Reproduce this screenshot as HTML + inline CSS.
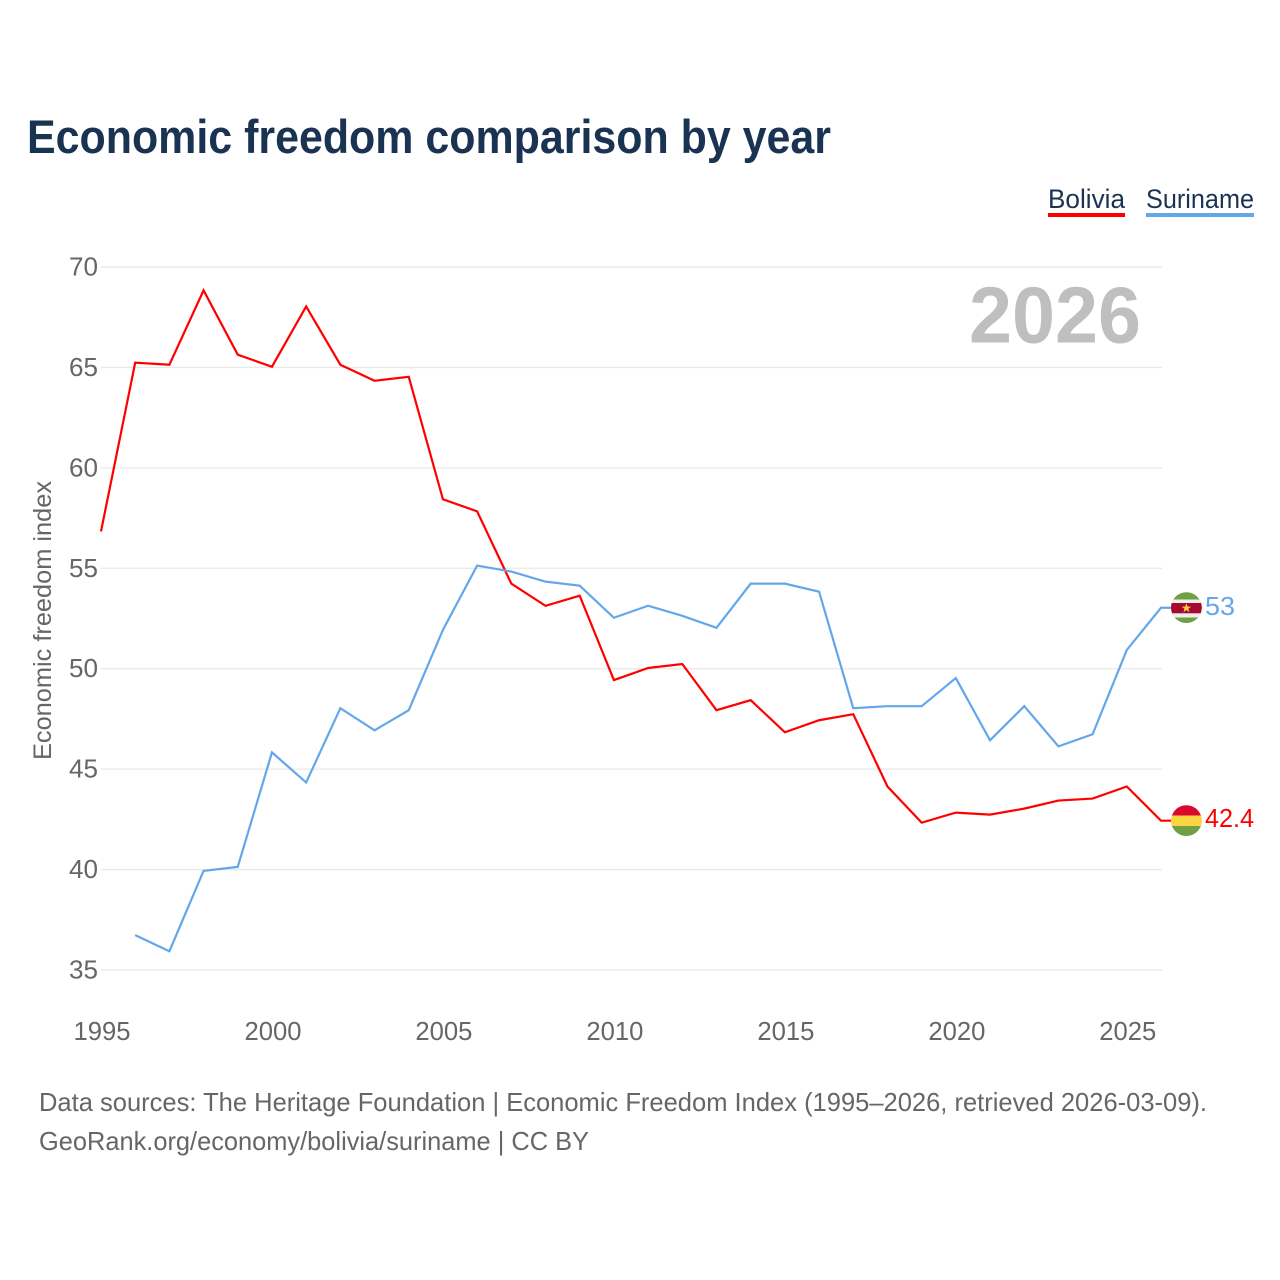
<!DOCTYPE html>
<html lang="en">
<head>
<meta charset="utf-8">
<title>Economic freedom comparison by year</title>
<style>
html,body{margin:0;padding:0;background:#fff;width:1280px;height:1280px;overflow:hidden}
svg{display:block}
text{font-family:"Liberation Sans",sans-serif}
</style>
</head>
<body>
<svg id="chart" xmlns="http://www.w3.org/2000/svg" width="1280" height="1280" viewBox="0 0 1280 1280">
  <defs>
    <clipPath id="flag-clip-sr"><circle cx="1186.4" cy="607.6" r="15.4"/></clipPath>
    <clipPath id="flag-clip-bo"><circle cx="1186.4" cy="820.6" r="15.4"/></clipPath>
  </defs>
  <text x="27" y="153" font-size="47" font-weight="700" fill="#1a3353" textLength="804" lengthAdjust="spacingAndGlyphs">Economic freedom comparison by year</text>

  <g id="grid"></g>
  <g id="y-ticks"></g>
  <g id="x-ticks"></g>

  <text x="969" y="342.5" font-size="80" font-weight="700" fill="#bfbfbf" textLength="172" lengthAdjust="spacingAndGlyphs">2026</text>

  <text transform="translate(51,760) rotate(-90)" font-size="25" fill="#666666" textLength="279" lengthAdjust="spacingAndGlyphs">Economic freedom index</text>

  <g id="series"></g>

  <g>
    <g>
      <text x="1048" y="208" font-size="27" fill="#1a3353" textLength="77" lengthAdjust="spacingAndGlyphs">Bolivia</text>
      <rect x="1048" y="213" width="77" height="4" fill="#ff0000"/>
    </g>
    <g>
      <text x="1146" y="208" font-size="27" fill="#1a3353" textLength="108" lengthAdjust="spacingAndGlyphs">Suriname</text>
      <rect x="1146" y="213" width="108" height="4" fill="#63a7ea"/>
    </g>
  </g>

  <g clip-path="url(#flag-clip-sr)">
    <rect x="1170" y="592" width="33" height="31" fill="#6fa043"/>
    <rect x="1170" y="599.5" width="33" height="18" fill="#eeeeee"/>
    <rect x="1170" y="603" width="33" height="10.3" fill="#a5092f"/>
    <polygon points="1186.4,603.2 1187.6,606.6 1191.2,606.6 1188.3,608.7 1189.4,612.1 1186.4,610 1183.4,612.1 1184.5,608.7 1181.6,606.6 1185.2,606.6" fill="#fdd43c"/>
  </g>
  <g clip-path="url(#flag-clip-bo)">
    <rect x="1170" y="805" width="33" height="10.5" fill="#d9082e"/>
    <rect x="1170" y="815.5" width="33" height="10.5" fill="#fdd541"/>
    <rect x="1170" y="826" width="33" height="10.5" fill="#71a044"/>
  </g>

  <text id="end-label-suriname" x="1205" y="615" font-size="25.5" fill="#63a7ea" textLength="30" lengthAdjust="spacingAndGlyphs"></text>
  <text id="end-label-bolivia" x="1205" y="827" font-size="25.5" fill="#ff0000" textLength="49" lengthAdjust="spacingAndGlyphs"></text>

  <text x="39" y="1111" font-size="26" fill="#666666" textLength="1168" lengthAdjust="spacingAndGlyphs">Data sources: The Heritage Foundation | Economic Freedom Index (1995–2026, retrieved 2026-03-09).</text>
  <text x="39" y="1150" font-size="26" fill="#666666" textLength="550" lengthAdjust="spacingAndGlyphs">GeoRank.org/economy/bolivia/suriname | CC BY</text>
</svg>
<script>
const years = [1995,1996,1997,1998,1999,2000,2001,2002,2003,2004,2005,2006,2007,2008,2009,2010,2011,2012,2013,2014,2015,2016,2017,2018,2019,2020,2021,2022,2023,2024,2025,2026];
const bolivia = [56.8,65.2,65.1,68.8,65.6,65.0,68.0,65.1,64.3,64.5,58.4,57.8,54.2,53.1,53.6,49.4,50.0,50.2,47.9,48.4,46.8,47.4,47.7,44.1,42.3,42.8,42.7,43.0,43.4,43.5,44.1,42.4];
const suriname = [null,36.7,35.9,39.9,40.1,45.8,44.3,48.0,46.9,47.9,51.9,55.1,54.8,54.3,54.1,52.5,53.1,52.6,52.0,54.2,54.2,53.8,48.0,48.1,48.1,49.5,46.4,48.1,46.1,46.7,50.9,53.0];
const yTickLabels = [35,40,45,50,55,60,65,70];
const xTickLabels = [1995,2000,2005,2010,2015,2020,2025];

const NS = 'http://www.w3.org/2000/svg';
const xScale = function (year) { return 101 + (year - 1995) * (1161 - 101) / 31; };
const yScale = function (v) { return 970 - (v - 35) * (970 - 267) / 35; };
const seriesOffset = -0.7;

function make(tag, attrs, parent) {
  const el = document.createElementNS(NS, tag);
  Object.keys(attrs).forEach(function (k) { el.setAttribute(k, attrs[k]); });
  parent.appendChild(el);
  return el;
}

const gridGroup = document.getElementById('grid');
const yGroup = document.getElementById('y-ticks');
const xGroup = document.getElementById('x-ticks');
const seriesGroup = document.getElementById('series');

yTickLabels.forEach(function (t) {
  const line = make('line', {x1: 101, x2: 1162, y1: yScale(t), y2: yScale(t), stroke: '#e8e8e8', 'stroke-width': 1.3}, gridGroup);
  
  
  const label = make('text', {x: 98, y: yScale(t) + 8.5, 'text-anchor': 'end', 'font-size': 25.5, fill: '#666666', textLength: 29, lengthAdjust: 'spacingAndGlyphs'}, yGroup);
  
  
  label.textContent = String(t);
});

xTickLabels.forEach(function (t) {
  const label = make('text', {x: xScale(t) + 1, y: 1040, 'text-anchor': 'middle', 'font-size': 25.5, fill: '#666666', textLength: 57, lengthAdjust: 'spacingAndGlyphs'}, xGroup);
  
  
  label.textContent = String(t);
});

function drawSeries(values, color, name) {
  let d = '';
  let lastX = 0;
  let lastY = 0;
  values.forEach(function (v, i) {
    if (v === null) { return; }
    lastX = xScale(years[i]);
    lastY = yScale(v) + seriesOffset;
    d += (d ? 'L' : 'M') + lastX.toFixed(2) + ' ' + lastY.toFixed(2);
  });
  const path = make('path', {d: d + 'H' + (lastX + 10), fill: 'none', stroke: color, 'stroke-width': 2.2, 'stroke-linejoin': 'miter'}, seriesGroup);
  
  
}

drawSeries(bolivia, '#ff0000', 'series-line-bolivia');
drawSeries(suriname, '#63a7ea', 'series-line-suriname');

document.getElementById('end-label-suriname').textContent = String(suriname[suriname.length - 1]);
document.getElementById('end-label-bolivia').textContent = String(bolivia[bolivia.length - 1]);
</script>
</body>
</html>
